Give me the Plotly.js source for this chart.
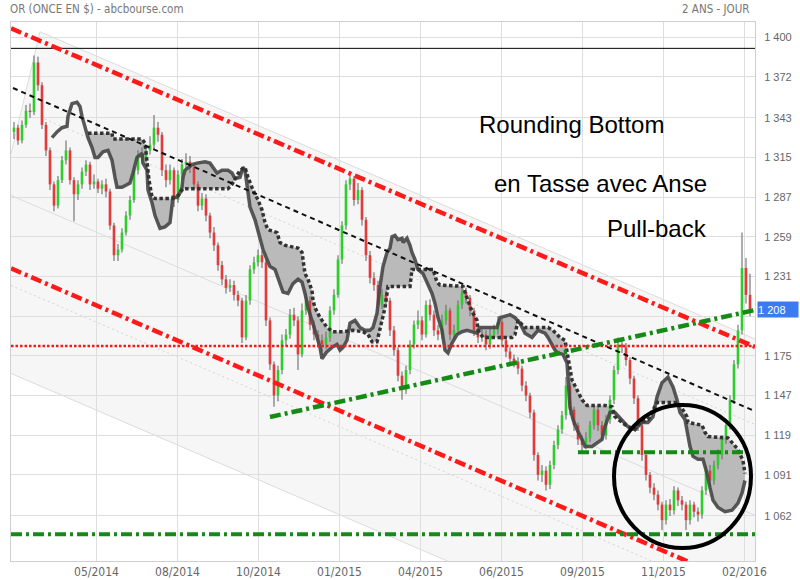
<!DOCTYPE html>
<html><head><meta charset="utf-8">
<script src="https://cdn.plot.ly/plotly-3.0.1.min.js"></script>
<style>html,body{margin:0;padding:0;background:#fff}#chart{width:800px;height:580px}</style>
</head><body><div id="chart"></div>
<script>
// ---- daily candles (sampled), USD / ounce ----
const opens = [1333,1336,1327,1338,1348,1347,1382,1366,1338,1320,
1296,1281,1299,1313,1320,1299,1289,1296,1305,1310,
1296,1298,1293,1296,1291,1267,1246,1250,1262,1274,
1285,1306,1317,1315,1320,1324,1336,1331,1306,1299,
1306,1285,1303,1310,1312,1308,1296,1281,1286,1274,
1262,1253,1239,1229,1223,1225,1218,1214,1188,1214,
1236,1241,1246,1241,1200,1169,1147,1165,1186,1190,
1204,1200,1176,1207,1214,1197,1190,1186,1183,1188,
1207,1218,1243,1267,1296,1300,1285,1292,1271,1246,
1230,1225,1211,1218,1214,1193,1179,1161,1151,1165,
1183,1197,1200,1190,1211,1204,1193,1190,1200,1207,
1190,1193,1211,1220,1216,1207,1193,1188,1190,1183,
1190,1193,1199,1186,1178,1173,1171,1166,1154,1147,
1135,1105,1091,1094,1084,1098,1112,1123,1133,1154,
1137,1126,1116,1112,1117,1126,1137,1126,1119,1130,
1144,1165,1183,1181,1172,1159,1145,1126,1105,1091,
1082,1077,1070,1059,1070,1066,1080,1073,1070,1059,
1070,1065,1063,1080,1094,1087,1098,1105,1116,1126,
1144,1169,1193,1237,1218];
const closes = [1336,1327,1338,1348,1347,1382,1366,1338,1320,1296,
1281,1299,1313,1320,1299,1289,1296,1305,1310,1296,
1298,1293,1296,1291,1267,1246,1250,1262,1274,1285,
1306,1317,1315,1320,1324,1336,1331,1306,1299,1306,
1285,1303,1310,1312,1308,1296,1281,1286,1274,1262,
1253,1239,1229,1223,1225,1218,1214,1188,1214,1236,
1241,1246,1241,1200,1169,1147,1165,1186,1190,1204,
1200,1176,1207,1214,1197,1190,1186,1183,1188,1207,
1218,1243,1267,1296,1300,1285,1292,1271,1246,1230,
1225,1211,1218,1214,1193,1179,1161,1151,1165,1183,
1197,1200,1190,1211,1204,1193,1190,1200,1207,1190,
1193,1211,1220,1216,1207,1193,1188,1190,1183,1190,
1193,1199,1186,1178,1173,1171,1166,1154,1147,1135,
1105,1091,1094,1084,1098,1112,1123,1133,1154,1137,
1126,1116,1112,1117,1126,1137,1126,1119,1130,1144,
1165,1183,1181,1172,1159,1145,1126,1105,1091,1082,
1077,1070,1059,1070,1066,1080,1073,1070,1059,1070,
1065,1063,1080,1094,1087,1098,1105,1116,1126,1144,
1169,1193,1237,1218,1208];
const highs = [1340,1338,1341,1352,1353,1387,1386,1368,1340,1322,
1298,1302,1316,1327,1322,1301,1299,1308,1313,1312,
1303,1300,1299,1300,1293,1269,1254,1265,1277,1288,
1309,1320,1322,1324,1330,1345,1340,1333,1310,1310,
1308,1306,1314,1318,1316,1310,1298,1290,1289,1276,
1266,1255,1242,1232,1229,1228,1221,1216,1218,1239,
1245,1250,1249,1243,1202,1171,1168,1190,1194,1208,
1209,1203,1212,1219,1217,1200,1193,1190,1192,1210,
1222,1246,1270,1299,1305,1302,1297,1294,1273,1249,
1234,1228,1222,1221,1216,1196,1181,1164,1168,1186,
1200,1207,1203,1214,1215,1207,1197,1204,1211,1209,
1197,1214,1224,1223,1218,1209,1196,1194,1193,1194,
1197,1203,1201,1189,1181,1176,1174,1168,1157,1149,
1137,1107,1098,1097,1101,1115,1126,1136,1160,1156,
1139,1128,1119,1121,1129,1140,1139,1129,1133,1147,
1168,1188,1188,1184,1174,1161,1147,1128,1107,1093,
1085,1080,1072,1073,1074,1083,1082,1076,1072,1073,
1072,1068,1083,1097,1098,1101,1109,1119,1129,1147,
1172,1197,1262,1244,1233];
const lows = [1328,1324,1325,1336,1343,1345,1362,1335,1316,1292,
1277,1279,1297,1310,1296,1270,1285,1293,1302,1292,
1293,1290,1289,1287,1264,1242,1242,1248,1260,1271,
1283,1303,1311,1312,1317,1321,1326,1302,1294,1296,
1280,1283,1300,1307,1304,1292,1277,1278,1270,1258,
1249,1235,1225,1219,1220,1214,1210,1184,1186,1211,
1233,1238,1237,1196,1165,1139,1143,1162,1182,1187,
1196,1165,1174,1204,1193,1186,1181,1178,1180,1185,
1204,1216,1240,1264,1292,1281,1282,1267,1242,1226,
1221,1207,1208,1210,1189,1175,1157,1144,1148,1162,
1180,1194,1186,1188,1200,1189,1186,1187,1197,1186,
1187,1190,1208,1212,1203,1189,1184,1185,1179,1180,
1187,1190,1182,1174,1169,1167,1162,1150,1143,1131,
1101,1087,1086,1080,1081,1095,1109,1120,1130,1133,
1122,1112,1107,1109,1114,1123,1122,1115,1116,1127,
1141,1162,1177,1168,1155,1141,1122,1101,1087,1078,
1073,1066,1052,1056,1062,1063,1069,1066,1052,1056,
1061,1058,1060,1077,1083,1084,1095,1102,1113,1123,
1141,1166,1190,1212,1203];

// ---- axes ----
const dateTickPos = [20.625,40.875,61.125,81.375,101.625,121.875,142.125,162.375,182.625];
const dateTickLabels = ['05/2014','08/2014','10/2014','01/2015','04/2015','06/2015','09/2015','11/2015','02/2016'];
const priceTicks = [1400,1372,1343,1315,1287,1259,1231,1203,1175,1147,1119,1091,1062];
// the 1 203 label sits under the last-price marker, so it is left blank
const priceTickLabels = ['1 400','1 372','1 343','1 315','1 287','1 259','1 231','','1 175','1 147','1 119','1 091','1 062'];
const lastPrice = 1208;
const lastPriceLabel = '1 208';

// ---- Ichimoku cloud (two spans) ----
const spanSolidX = [9.5,10.75,12,13.25,13.5,14.5,15.75,16.5,17,17.75,18.5,19.5,20.25,21,22.25,23.5,24.5,25.25,25.75,27,29,29.75,30.25,30.75,32,32.25,33.25,33.5,34.5,35.25,36.5,37.75,39,39.5,39.75,40.75,41.5,42,42.25,42.75,44.5,45.75,47.75,49,49.75,50.75,52,53.5,54.5,55.25,56.5,57.25,57.75,58.25,59,60.25,61.5,62.25,63.25,64,65.25,66.5,67.25,68.5,69.75,71,72,72.75,73.5,74.5,75.25,76.5,77,78.25,79.5,80.75,81.5,82.25,83.25,84,85.25,86.5,87.75,89,89.75,90.75,91.5,92.25,93.25,94,94.5,95.25,96,97,97.25,98.25,99,99.5,100.25,101,102.25,103.5,104.5,105.25,106,107,107.75,108.5,109.5,110.75,112,113.25,114.5,115.75,116.5,117.75,119,120.75,121.5,124,125.25,126.5,127.75,129.5,131,132.75,133.5,135.25,136,137.25,138.25,138.5,139,139.75,140.75,142,142.75,144.5,146,147,147.75,149,150.25,152,153.5,155.25,157,158.5,159.75,160.75,162,163.5,164.75,165.75,166.5,167.75,168.25,169,169.75,171,172.25,173.25,174,174.75,176,177.75,179.5,181,182,182.75];
const spanSolidY = [1329,1333,1336,1337,1344,1353,1354,1351,1344,1337,1329,1322,1315,1315,1319,1320,1313,1301,1294,1294,1297,1304,1311,1315,1318,1311,1306,1292,1283,1274,1265,1266,1269,1280,1287,1287,1290,1294,1301,1306,1310,1311,1312,1311,1308,1304,1306,1306,1304,1300,1301,1308,1306,1297,1280,1271,1259,1250,1243,1238,1236,1226,1220,1219,1226,1229,1227,1219,1209,1200,1193,1181,1173,1178,1181,1183,1179,1181,1186,1198,1200,1195,1193,1193,1195,1205,1224,1238,1248,1251,1259,1260,1257,1258,1255,1258,1253,1248,1243,1236,1233,1225,1219,1212,1202,1193,1179,1177,1184,1190,1192,1193,1192,1191,1195,1195,1195,1195,1202,1204,1202,1198,1191,1188,1193,1191,1188,1179,1177,1176,1170,1158,1139,1130,1123,1116,1111,1111,1114,1116,1125,1135,1135,1130,1125,1123,1128,1128,1132,1146,1156,1160,1153,1144,1135,1130,1121,1111,1104,1102,1102,1092,1082,1073,1068,1065,1066,1071,1078,1087];
const spanDotX = [18.5,24.5,24.75,32,32.75,33.25,33.75,34.5,35.25,39.5,41,42.25,44.5,53.5,54.5,55.25,56.5,57.75,58.5,59.75,61,62,62.75,63.5,65.75,66.5,67.75,71,72,72.25,72.75,73.5,74.5,74.75,75.25,76.5,78.25,79.75,82.25,84.75,87.25,88.5,89.5,90.75,91.5,92,92.75,93.5,99,99.5,101,104.75,105.75,106.5,112.25,113.5,114,114.75,115.75,116,117.25,120.25,121.5,124.5,125.25,126,127.75,130.25,133.5,134.75,136.5,137.75,138.5,139,139.5,140.75,142,143.25,147.75,149.5,150.25,152,153.5,155.25,156.5,158.5,159.5,160.75,162,166,167,168.25,168.5,172,172.75,173.5,178.5,179.5,181,182.25,182.75];
const spanDotY = [1332,1332,1328,1328,1325,1313,1299,1287,1286,1286,1288,1293,1293,1293,1296,1300,1306,1308,1301,1292,1285,1278,1269,1264,1262,1255,1253,1251,1248,1243,1233,1229,1221,1214,1209,1202,1195,1192,1192,1193,1192,1190,1185,1185,1193,1200,1209,1224,1224,1236,1236,1236,1227,1225,1224,1213,1210,1205,1200,1193,1188,1188,1188,1188,1190,1200,1195,1195,1195,1193,1188,1186,1174,1165,1158,1151,1144,1140,1140,1139,1132,1128,1125,1123,1128,1130,1135,1142,1142,1142,1138,1132,1128,1126,1121,1118,1117,1114,1109,1101,1092];

// ---- drawn trend lines (data coordinates) ----
const upperRedX = [-0.75, 185.25], upperRedY = [1406.1, 1181.3];
const lowerRedX = [-0.75, 172], lowerRedY = [1236.7, 1025.5];
const blackTrendX = [-0.25, 184.5], blackTrendY = [1364.0, 1136.8];
const greenTrendX = [64, 185.25], greenTrendY = [1131.8, 1207.3];
const fullSpanX = [-0.75, 185.25];
const resistanceTop = 1392;
const redDottedLevel = 1182;
const greenLowLevel = 1049;
const greenNeckX = [141, 182.75], greenNeckLevel = 1107;
// background channel (light grey)
const chanUpperX = [6.5, 185.25], chanUpperY = [1403.7, 1186.9];
const chanMidX = [-0.75, 185.25], chanMidY = [1288.2, 1062.4];
const chanLowX = [-0.75, 185.25], chanLowY = [1162.6, 936.8];
const chanEdgeX = [6.5, -0.75], chanEdgeY = [1403.7, 1317.4];
const chanDot1X = [6.5, 185.25], chanDot1Y = [1343.5, 1126.5];
const chanDot2X = [-0.75, 185.25], chanDot2Y = [1224.7, 998.9];
const shadeX = [6.5, 185.25, 185.25, 108.25, -0.75, -0.75];
const shadeY = [1403.7, 1186.9, 1030.2, 1030.2, 1162.6, 1317.4];
const circleX = [150, 184.25], circleY = [1039.4, 1140.3];

const GREEN = '#2ecc2e', RED = '#e23b3b';
const idx = opens.map((_, i) => i);

function pathOf(xs, ys, close) {
  let p = xs.map((x, i) => (i ? 'L' : 'M') + x + ',' + ys[i]).join(' ');
  return close ? p + ' Z' : p;
}
// cloud polygon: solid span (where dotted span exists) + dotted span reversed
const startX = spanDotX[0];
const cs = spanSolidX.map((x, i) => [x, spanSolidY[i]]).filter(p => p[0] >= startX);
const cloudXs = cs.map(p => p[0]).concat(spanDotX.slice().reverse());
const cloudYs = cs.map(p => p[1]).concat(spanDotY.slice().reverse());

function lineShape(xs, ys, color, width, dash) {
  return {type:'line', xref:'x', yref:'y', layer:'below', x0:xs[0], y0:ys[0], x1:xs[1], y1:ys[1],
          line:{color:color, width:width, dash:dash || 'solid'}};
}

const shapes = [
  {type:'path', xref:'x', yref:'y', layer:'below', path: pathOf(shadeX, shadeY, true),
   fillcolor:'#f6f6f6', line:{width:0}},
  lineShape(chanUpperX, chanUpperY, '#dcdcdc', 1),
  lineShape(chanMidX, chanMidY, '#dcdcdc', 1),
  lineShape(chanLowX, chanLowY, '#dcdcdc', 1),
  lineShape(chanEdgeX, chanEdgeY, '#dcdcdc', 1),
  lineShape(chanDot1X, chanDot1Y, '#d4d4d4', 1, '2px,3px'),
  lineShape(chanDot2X, chanDot2Y, '#d4d4d4', 1, '2px,3px'),
  {type:'path', xref:'x', yref:'y', layer:'between', path: pathOf(cloudXs, cloudYs, true),
   fillcolor:'#bababa', line:{width:0}},
  {type:'circle', xref:'x', yref:'y', layer:'above', x0:circleX[0], x1:circleX[1], y0:circleY[0], y1:circleY[1],
   line:{color:'#000', width:4}}
];

function seg(x, y, color, width, dash) {
  return {type:'scatter', mode:'lines', x:x, y:y, hoverinfo:'skip', showlegend:false,
          line:{color:color, width:width, dash:dash || 'solid'}};
}

const traces = [
  {type:'bar', x: idx, base: lows, y: highs.map((h, i) => h - lows[i]), width: 0.28,
   marker:{color:'#6e6e6e'}, hoverinfo:'skip', showlegend:false},
  {type:'bar', x: idx, base: opens, y: closes.map((c, i) => (c - opens[i]) || 0.6), width: 0.66,
   marker:{color: closes.map((c, i) => c >= opens[i] ? GREEN : RED)}, hoverinfo:'skip', showlegend:false},
  seg(spanSolidX, spanSolidY, 'rgba(70,70,70,0.9)', 3.5),
  seg(spanDotX, spanDotY, '#333', 3.5, '3.5px,2.5px'),
  seg(fullSpanX, [resistanceTop, resistanceTop], '#000', 1),
  seg(fullSpanX, [redDottedLevel, redDottedLevel], '#ff1414', 2.5, '2.5px,2px'),
  seg(blackTrendX, blackTrendY, '#111', 2, '5px,4px'),
  seg(upperRedX, upperRedY, '#ff1a1a', 4.5, '11px,4px,3px,4px'),
  seg(lowerRedX, lowerRedY, '#ff1a1a', 4.5, '11px,4px,3px,4px'),
  seg(greenTrendX, greenTrendY, '#158a15', 4.5, '11px,4px,3px,4px'),
  seg(fullSpanX, [greenLowLevel, greenLowLevel], '#158a15', 4, '11px,4px,3px,4px'),
  seg(greenNeckX, [greenNeckLevel, greenNeckLevel], '#158a15', 4, '11px,4px,3px,4px')
];

const FONT = 'Liberation Sans, Arial, sans-serif';
const NARROW = 'Liberation Sans Narrow, DejaVu Sans Condensed, Liberation Sans, Arial, sans-serif';

const layout = {
  width: 800, height: 580,
  margin: {l: 11, r: 45, t: 22, b: 19, pad: 0},
  paper_bgcolor: '#fff', plot_bgcolor: '#fff',
  showlegend: false, barmode: 'overlay', hovermode: false,
  font: {family: FONT, color: '#666', size: 11},
  xaxis: {range: [-0.75, 185.25], tickvals: dateTickPos, ticktext: dateTickLabels,
          showgrid: true, gridcolor: '#dedede', gridwidth: 1, zeroline: false,
          showline: true, mirror: true, linecolor: '#cfcfcf', linewidth: 1, ticks: '',
          tickfont: {family: NARROW, size: 12, color: '#666'}, fixedrange: true},
  yaxis: {range: [1030.2, 1410.6], side: 'right', tickvals: priceTicks, ticktext: priceTickLabels,
          showgrid: true, gridcolor: '#dedede', gridwidth: 1, zeroline: false,
          showline: true, mirror: true, linecolor: '#cfcfcf', linewidth: 1, ticks: '',
          ticklabelstandoff: 6, tickfont: {family: FONT, size: 11, color: '#666'}, fixedrange: true},
  shapes: shapes,
  annotations: [
    {xref:'paper', yref:'paper', x:-0.004, y:1.024, xanchor:'left', yanchor:'middle', showarrow:false,
     text:'OR (ONCE EN $) - abcbourse.com', font:{family: NARROW, size: 11.5, color:'#777'}},
    {xref:'paper', yref:'paper', x:0.996, y:1.024, xanchor:'right', yanchor:'middle', showarrow:false,
     text:'2 ANS - JOUR', font:{family: NARROW, size: 11.5, color:'#777'}},
    {xref:'paper', yref:'paper', x:0.754, y:0.809, xanchor:'center', yanchor:'middle', showarrow:false,
     text:'Rounding Bottom', font:{family: FONT, size: 24, color:'#000'}},
    {xref:'paper', yref:'paper', x:0.793, y:0.701, xanchor:'center', yanchor:'middle', showarrow:false,
     text:'en Tasse avec Anse', font:{family: FONT, size: 24, color:'#000'}},
    {xref:'paper', yref:'paper', x:0.868, y:0.616, xanchor:'center', yanchor:'middle', showarrow:false,
     text:'Pull-back', font:{family: FONT, size: 24, color:'#000'}},
    {xref:'paper', yref:'y', x:1, y:lastPrice, xanchor:'left', yanchor:'middle', xshift:2, showarrow:false,
     text:lastPriceLabel, bgcolor:'#3c7af2', width:40, height:15, align:'left', borderpad:0,
     font:{family: FONT, size: 11, color:'#fff'}}
  ]
};

Plotly.newPlot('chart', traces, layout, {staticPlot: true, displayModeBar: false});
</script>
</body></html>
